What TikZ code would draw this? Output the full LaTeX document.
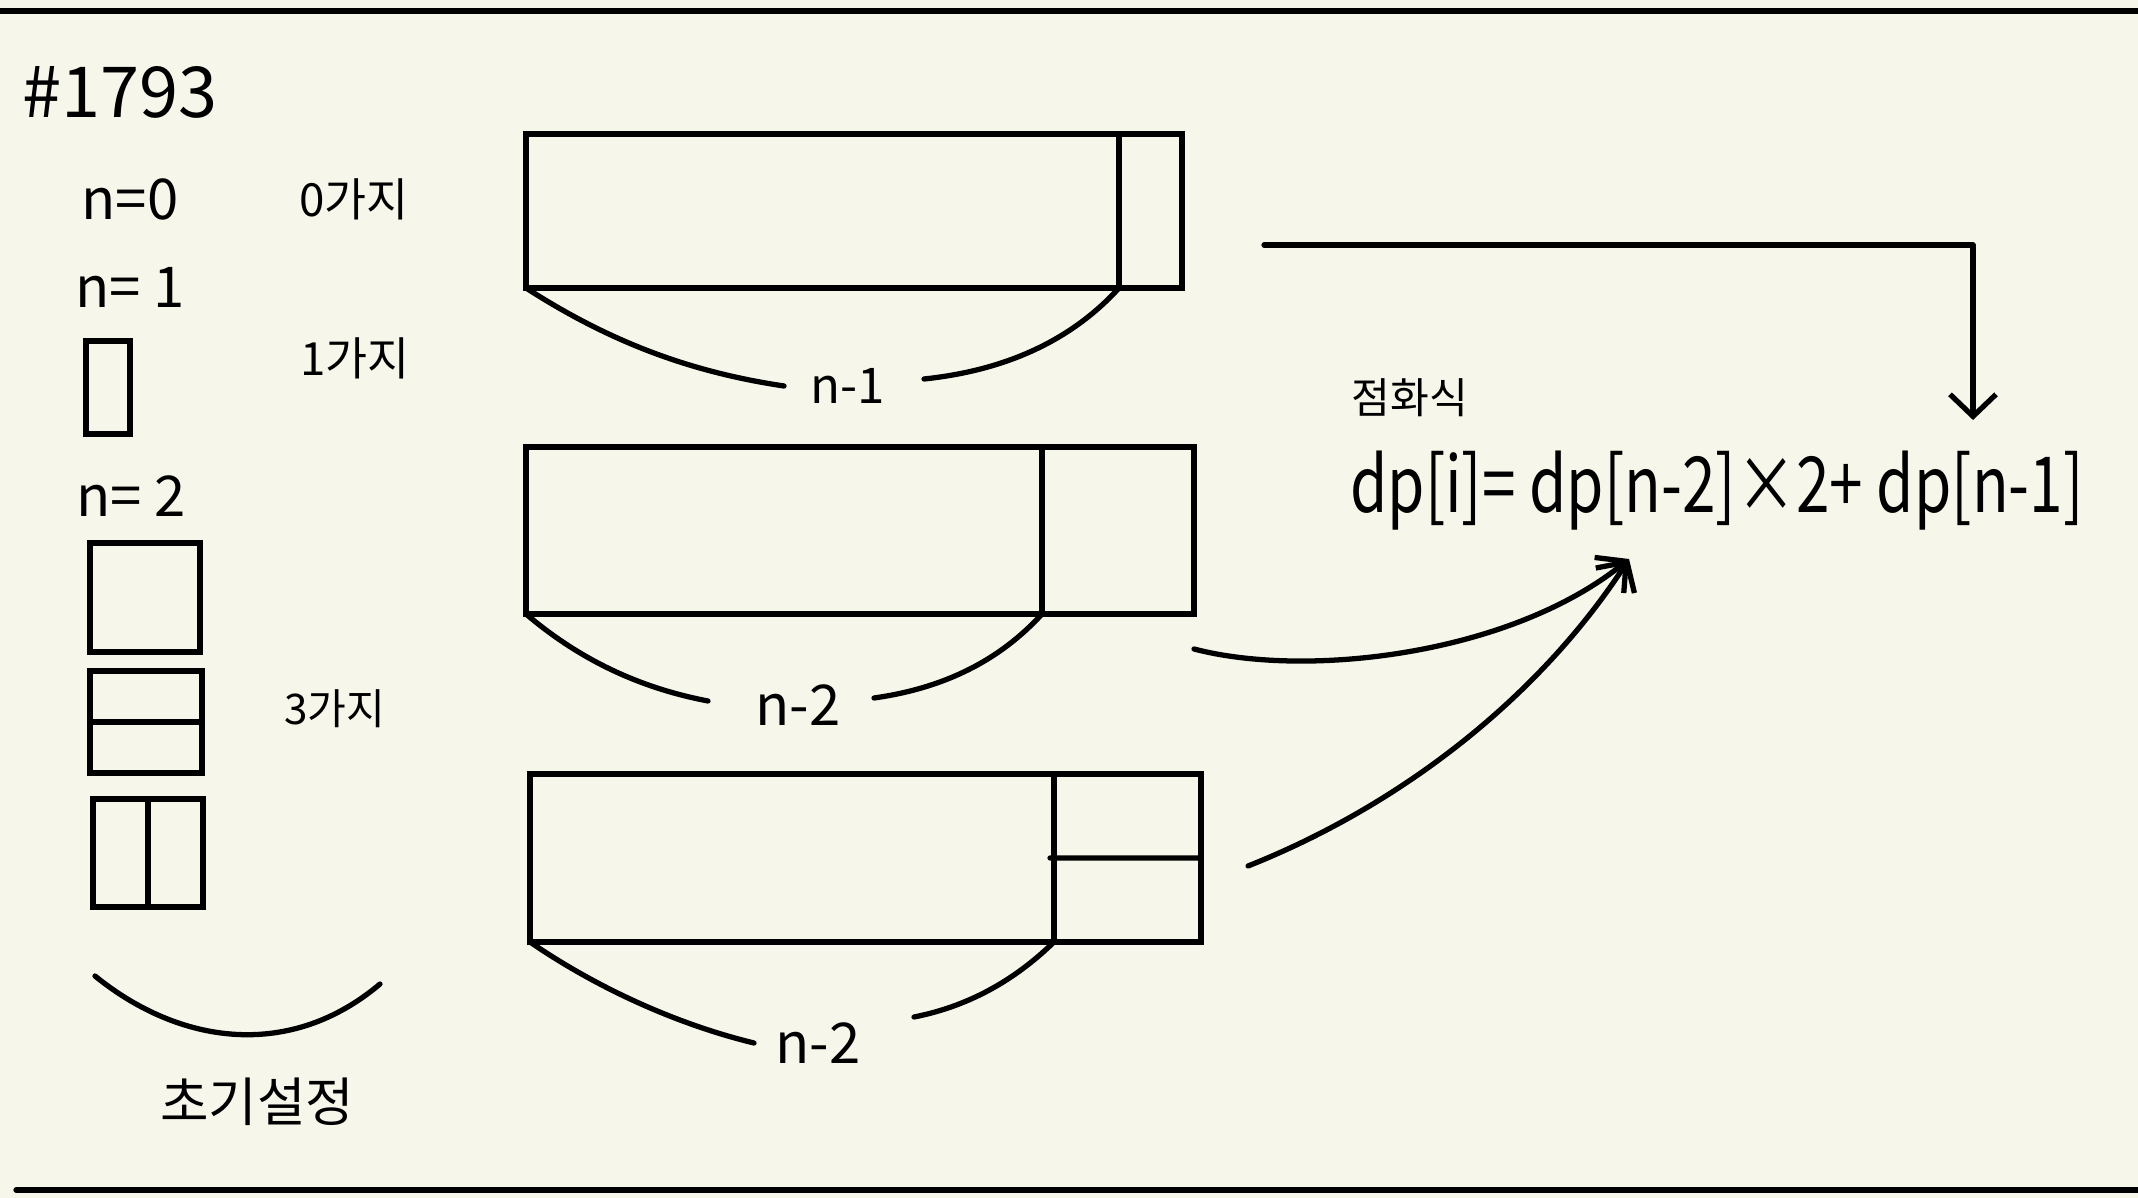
\documentclass[tikz,border=0pt]{standalone}
\usepackage{fontspec}
\setmainfont{Noto Sans CJK KR}
\usetikzlibrary{arrows.meta}
\definecolor{bg}{RGB}{246,246,235}
\tikzset{
  ink/.style={line width=1.5pt, line cap=round, line join=round, black},
  boxnode/.style={draw, line width=1.5pt, rectangle, inner sep=0pt, outer sep=0pt, anchor=north west},
  lbl/.style={inner sep=1pt, text=black},
  tip/.style={-{Straight Barb[length=2.2mm,width=4.6mm,line width=1.5pt]}}
}
\begin{document}
\begin{tikzpicture}[x=0.1mm,y=-0.1mm]
\useasboundingbox (0,0) rectangle (2138,1198);
\fill[bg] (0,0) rectangle (2138,1198);
% frame lines
\draw[ink] (0,11) -- (2138,11);
\draw[ink] (16,1190) -- (2138,1190);

% left column
\node[lbl, font=\fontsize{20}{24}\selectfont] (title) at (120,92) {\#1793};
\node[lbl, font=\fontsize{16}{19}\selectfont] (n0) at (130,199) {n=0};
\node[lbl, font=\fontsize{13}{16}\selectfont] (c0) at (354,199) {0가지};
\node[lbl, font=\fontsize{16}{19}\selectfont] (n1) at (130,287) {n= 1};
\node[lbl, font=\fontsize{13}{16}\selectfont] (c1) at (355,358) {1가지};
\node[lbl, font=\fontsize{16}{19}\selectfont] (n2) at (131,496) {n= 2};
\node[lbl, font=\fontsize{12}{15}\selectfont] (c3) at (335,709) {3가지};

\node[boxnode, minimum width=4.4mm, minimum height=9.3mm] (t1) at (86,341) {};
\node[boxnode, minimum width=11mm, minimum height=10.9mm] (s1) at (90,543) {};
\node[boxnode, minimum width=11.2mm, minimum height=10.2mm] (s2) at (90,671) {};
\draw[line width=1.5pt] (s2.west) -- (s2.east);
\node[boxnode, minimum width=11mm, minimum height=10.8mm] (s3) at (93,799) {};
\draw[line width=1.5pt] (s3.north) -- (s3.south);

\coordinate (ia) at (95,976);
\coordinate (ib) at (380,984);
\draw[ink] (ia) .. controls (180,1045) and (290,1060) .. (ib);
\node[lbl, font=\fontsize{15}{18}\selectfont] (init) at (257,1102) {초기설정};

% box 1
\node[boxnode, minimum width=65.6mm, minimum height=15.4mm] (b1) at (526,134) {};
\draw[line width=1.5pt] (1119,134) -- (1119,288);
\node[lbl, font=\fontsize{14}{17}\selectfont] (l1) at (848,386) {n-1};
\draw[ink] (b1.south west) .. controls (610,342) and (690,372) .. (784,386);
\draw[ink] (924,379) .. controls (1000,371) and (1068,344) .. (1119,288);

% box 2
\node[boxnode, minimum width=66.8mm, minimum height=16.7mm] (b2) at (526,447) {};
\draw[line width=1.5pt] (1042,447) -- (1042,614);
\node[lbl, font=\fontsize{16}{19}\selectfont] (l2) at (798,705) {n-2};
\draw[ink] (b2.south west) .. controls (580,660) and (640,688) .. (708,701);
\draw[ink] (874,698) .. controls (945,688) and (1000,660) .. (1042,614);

% box 3
\node[boxnode, minimum width=67.1mm, minimum height=16.8mm] (b3) at (530,774) {};
\draw[line width=1.5pt] (1054,774) -- (1054,942);
\draw[ink] (1050,858) -- (b3.east);
\node[lbl, font=\fontsize{16}{19}\selectfont] (l3) at (818,1043) {n-2};
\draw[ink] (b3.south west) .. controls (600,990) and (680,1025) .. (754,1043);
\draw[ink] (914,1017) .. controls (975,1005) and (1020,975) .. (1054,942);

% recurrence
\node[lbl, font=\fontsize{12}{15}\selectfont] (rec) at (1410,398) {점화식};
\node[lbl, font=\fontsize{22}{26}\selectfont, anchor=west] (eq) at (1346,491) {\scalebox{0.78}[1]{dp[i]= dp[n-2]×2+ dp[n-1]}};

\coordinate (a1s) at (1264,245);
\coordinate (a1c) at (1973,245);
\coordinate (a1e) at (1973,420);
\draw[ink, tip] (a1s) -- (a1c) -- (a1e);

\coordinate (tgt) at (1629,559);
\draw[ink, tip] (1194,649) .. controls (1309,679) and (1513,654) .. (tgt);
\draw[ink, tip] (1248,866) .. controls (1404,804) and (1541,695) .. (tgt);
\end{tikzpicture}
\end{document}
